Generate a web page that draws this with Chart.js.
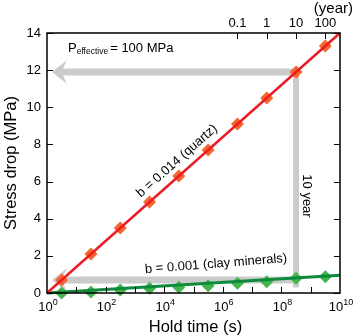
<!DOCTYPE html>
<html lang="en">
<head>
    <meta charset="UTF-8">
    <title>Stress drop vs hold time</title>
    <script src="https://cdn.jsdelivr.net/npm/chart.js"></script>
    <style>
        body { margin: 0; background: #fff; }
        canvas { display: block; }
    </style>
</head>
<body>
    <canvas id="chart" width="355" height="336"></canvas>
    <script>
        // Data
        const holdTimes = [3.16, 31.6, 316, 3160, 31600, 3.16e5, 3.16e6, 3.16e7, 3.16e8, 3.16e9];
        const quartzDrop = [0.70, 2.10, 3.50, 4.90, 6.30, 7.70, 9.10, 10.50, 11.90, 13.30];
        const clayDrop = [0.00, 0.05, 0.16, 0.25, 0.31, 0.39, 0.52, 0.61, 0.79, 0.88];
        const fitTimes = [1, 1e10];
        const quartzFit = [0, 14];
        const clayFit = [0, 0.95];
        const yTicks = [0, 2, 4, 6, 8, 10, 12, 14];
        const xTickExps = [0, 2, 4, 6, 8, 10];
        const yearTicks = [0.1, 1, 10, 100];
        const yearLabels = ['0.1', '1', '10', '100'];
        const secPerYear = 3.156e7;

        const FONT = '"Liberation Sans", Arial, sans-serif';

        function pts(xs, ys) {
            return xs.map((x, i) => ({ x: x, y: ys[i] }));
        }

        function arrowLeft(ctx, xTip, xEnd, y, band, headLen, headH) {
            ctx.beginPath();
            ctx.moveTo(xEnd, y - band / 2);
            ctx.lineTo(xTip + headLen - 4, y - band / 2);
            ctx.lineTo(xTip + headLen, y - headH / 2);
            ctx.lineTo(xTip, y);
            ctx.lineTo(xTip + headLen, y + headH / 2);
            ctx.lineTo(xTip + headLen - 4, y + band / 2);
            ctx.lineTo(xEnd, y + band / 2);
            ctx.closePath();
            ctx.fill();
        }

        const backgroundPlugin = {
            id: 'arrows',
            beforeDatasetsDraw(chart) {
                const ctx = chart.ctx;
                const xs = chart.scales.x, ys = chart.scales.y;
                const xTen = xs.getPixelForValue(10 * secPerYear);
                const yHigh = ys.getPixelForValue(quartzDrop[8]);
                const yLow = ys.getPixelForValue(0.7);
                const left = chart.chartArea.left;
                ctx.save();
                ctx.fillStyle = '#cbcbcb';
                // vertical band at 10 years
                ctx.fillRect(xTen - 3, yHigh - 3, 6, ys.getPixelForValue(0.3) - yHigh + 3);
                arrowLeft(ctx, left + 5, xTen + 3, yHigh, 7, 15, 24);
                arrowLeft(ctx, left + 5, xTen + 3, yLow, 7, 15, 24);
                ctx.restore();
            }
        };

        const axesPlugin = {
            id: 'axesText',
            afterDatasetsDraw(chart) {
                const ctx = chart.ctx;
                const a = chart.chartArea;
                const xs = chart.scales.x, ys = chart.scales.y;
                ctx.save();
                ctx.strokeStyle = '#000';
                ctx.lineWidth = 1.5;
                ctx.strokeRect(a.left, a.top, a.right - a.left, a.bottom - a.top);

                ctx.lineWidth = 1;
                ctx.beginPath();
                // y ticks, inward on both sides
                yTicks.forEach(v => {
                    const y = Math.round(ys.getPixelForValue(v)) + 0.5;
                    ctx.moveTo(a.left, y); ctx.lineTo(a.left + 6, y);
                    ctx.moveTo(a.right, y); ctx.lineTo(a.right - 6, y);
                });
                // bottom ticks every decade
                for (let e = 1; e < 10; e++) {
                    const x = Math.round(xs.getPixelForValue(Math.pow(10, e))) + 0.5;
                    ctx.moveTo(x, a.bottom); ctx.lineTo(x, a.bottom - 6);
                }
                // top ticks in years
                yearTicks.forEach(v => {
                    const x = Math.round(xs.getPixelForValue(v * secPerYear)) + 0.5;
                    ctx.moveTo(x, a.top); ctx.lineTo(x, a.top + 6);
                });
                ctx.stroke();

                ctx.fillStyle = '#000';
                // y tick labels
                ctx.font = '13px ' + FONT;
                ctx.textAlign = 'right';
                ctx.textBaseline = 'middle';
                yTicks.forEach(v => {
                    ctx.fillText(String(v), a.left - 6, ys.getPixelForValue(v));
                });

                // x tick labels 10^n
                ctx.textBaseline = 'alphabetic';
                xTickExps.forEach(e => {
                    const x = xs.getPixelForValue(Math.pow(10, e));
                    ctx.font = '13px ' + FONT;
                    const w1 = ctx.measureText('10').width;
                    ctx.font = '9px ' + FONT;
                    const w2 = ctx.measureText(String(e)).width;
                    const x0 = x - (w1 + w2) / 2 + 1;
                    ctx.textAlign = 'left';
                    ctx.font = '13px ' + FONT;
                    ctx.fillText('10', x0, a.bottom + 18);
                    ctx.font = '9px ' + FONT;
                    ctx.fillText(String(e), x0 + w1, a.bottom + 12);
                });

                // top year labels
                ctx.font = '13px ' + FONT;
                ctx.textAlign = 'center';
                yearTicks.forEach((v, i) => {
                    ctx.fillText(yearLabels[i], xs.getPixelForValue(v * secPerYear), a.top - 6);
                });
                ctx.textAlign = 'right';
                ctx.font = '15px ' + FONT;
                ctx.fillText('(year)', 353, 13);

                // axis titles
                ctx.textAlign = 'center';
                ctx.font = '16.5px ' + FONT;
                ctx.fillText('Hold time (s)', (a.left + a.right) / 2 + 2, 332);
                ctx.save();
                ctx.translate(16, (a.top + a.bottom) / 2);
                ctx.rotate(-Math.PI / 2);
                ctx.fillText('Stress drop (MPa)', 0, 0);
                ctx.restore();

                // P effective label
                ctx.textAlign = 'left';
                ctx.font = '13px ' + FONT;
                let px = a.left + 21;
                ctx.fillText('P', px, 52);
                px += ctx.measureText('P').width;
                ctx.font = '8.5px ' + FONT;
                ctx.fillText('effective', px, 54);
                px += ctx.measureText('effective').width + 2;
                ctx.font = '13px ' + FONT;
                ctx.fillText('= 100 MPa', px, 52);

                // fit labels
                ctx.font = '13px ' + FONT;
                ctx.textAlign = 'center';
                ctx.textBaseline = 'middle';
                ctx.save();
                ctx.translate(177, 161);
                ctx.rotate(-41.5 * Math.PI / 180);
                ctx.fillText('b = 0.014 (quartz)', 0, 0);
                ctx.restore();

                ctx.save();
                ctx.translate(216, 264);
                ctx.rotate(-4.5 * Math.PI / 180);
                ctx.fillText('b = 0.001 (clay minerals)', 0, 0);
                ctx.restore();

                ctx.save();
                ctx.translate(xs.getPixelForValue(10 * secPerYear) + 11, 196);
                ctx.rotate(Math.PI / 2);
                ctx.fillText('10 year', 0, 0);
                ctx.restore();

                ctx.restore();
            }
        };

        new Chart(document.getElementById('chart'), {
            type: 'scatter',
            data: {
                datasets: [
                    {
                        data: pts(fitTimes, quartzFit),
                        showLine: true,
                        borderColor: '#ec1c24',
                        borderWidth: 2.5,
                        pointRadius: 0
                    },
                    {
                        data: pts(fitTimes, clayFit),
                        showLine: true,
                        borderColor: '#0d8a3e',
                        borderWidth: 3,
                        pointRadius: 0
                    },
                    {
                        data: pts(holdTimes, quartzDrop),
                        showLine: false,
                        pointStyle: 'rectRot',
                        pointRadius: 6.5,
                        backgroundColor: '#f7642c',
                        borderColor: '#f7642c',
                        borderWidth: 0
                    },
                    {
                        data: pts(holdTimes, clayDrop),
                        showLine: false,
                        pointStyle: 'rectRot',
                        pointRadius: 6.5,
                        backgroundColor: '#42b64c',
                        borderColor: '#42b64c',
                        borderWidth: 0
                    }
                ]
            },
            options: {
                responsive: false,
                animation: false,
                clip: false,
                layout: { padding: { left: 47, top: 33, right: 15, bottom: 43 } },
                plugins: { legend: { display: false }, tooltip: { enabled: false } },
                scales: {
                    x: { type: 'logarithmic', min: 1, max: 1e10, display: false },
                    y: { type: 'linear', min: 0, max: 14, display: false }
                }
            },
            plugins: [backgroundPlugin, axesPlugin]
        });
    </script>
</body>
</html>
